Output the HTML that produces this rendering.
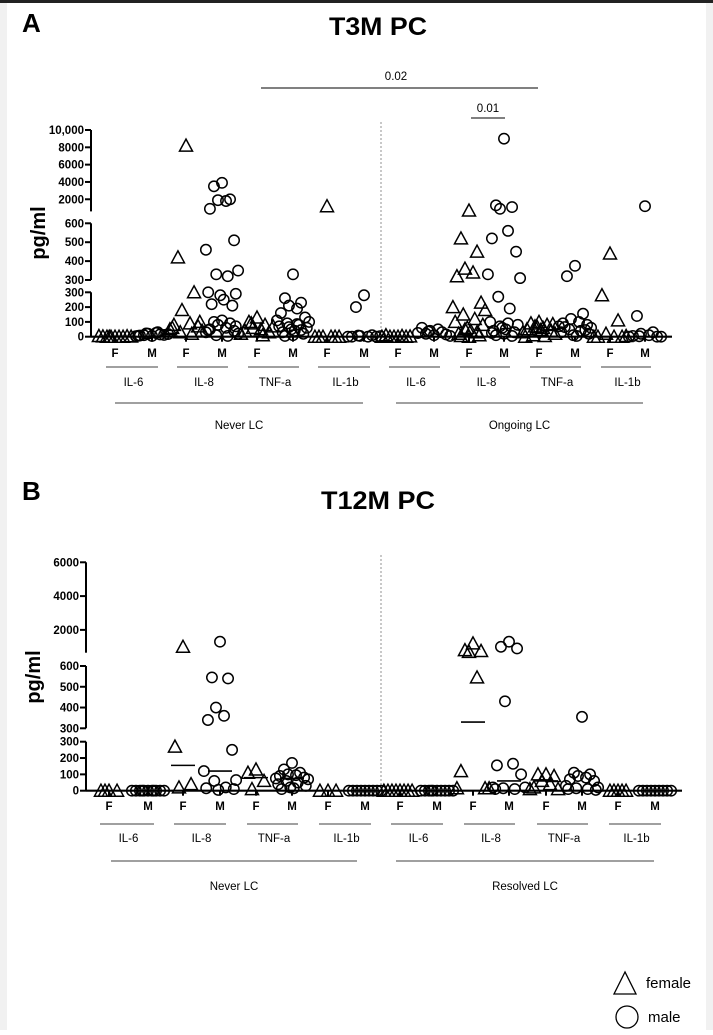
<!DOCTYPE html>
<html><head><meta charset="utf-8"><style>
html,body{margin:0;padding:0;background:#fff}
body{width:713px;height:1030px;overflow:hidden;position:relative;font-family:"Liberation Sans",sans-serif}
svg text{font-family:"Liberation Sans",sans-serif}
</style></head><body>
<svg id="fig" width="713" height="1030" viewBox="0 0 713 1030" xmlns="http://www.w3.org/2000/svg">
<rect x="0" y="0" width="713" height="1030" fill="#fff"/>
<rect x="0" y="0" width="713" height="3" fill="#222"/>
<rect x="0" y="3" width="7" height="1027" fill="#f1f1f1"/>
<rect x="706" y="3" width="7" height="1027" fill="#f1f1f1"/>
<g id="gA"></g>
<g id="gB"></g>
<g>
<polygon points="625,972 614,994 636,994" fill="none" stroke="#000" stroke-width="1.3"/>
<text x="646" y="988" font-size="15">female</text>
<circle cx="627" cy="1017" r="11" fill="none" stroke="#000" stroke-width="1.3"/>
<text x="648" y="1022" font-size="15">male</text>
</g>
</svg>
<script>
// ---- Panel A data (T3M PC) ----
const groupsA = ["IL-6","IL-8","TNF-a","IL-1b","IL-6","IL-8","TNF-a","IL-1b"];
const cohortsA = ["Never LC","Ongoing LC"];
const valsA = [
 [0,0,0,0,0,2,3,5,1,0],
 [5,10,15,20,25,8,12,3,18,22,30,6],
 [8200,420,300,180,90,80,70,50,40,30,20,60,100],
 [3900,3500,2000,1900,1800,900,510,460,350,330,320,300,290,280,250,220,210,110,100,90,80,60,50,40,30,20,10,5,45,70],
 [130,100,80,60,50,40,30,20,70,90,10],
 [330,260,230,210,190,160,130,110,100,90,80,70,60,50,40,30,20,10,5,45,65,85],
 [1200,0,0,0,0,0,0],
 [280,200,10,5,0,0,0,0,3,8],
 [0,0,0,0,5,10,2,0],
 [10,20,30,40,50,60,15,25,5,35],
 [700,520,450,360,340,320,230,200,180,150,120,100,80,60,40,20,10,0,5,30,50],
 [9000,1300,1100,900,560,520,450,330,310,270,190,100,80,60,50,40,30,20,10,5,70,90,25],
 [100,90,80,70,60,50,40,30,20,10,5,0,85,65,45],
 [375,320,155,120,100,90,80,70,60,50,40,30,20,10,5,65,45],
 [440,280,110,20,0,0,0,0,5],
 [1200,140,30,20,10,5,0,0,0,3]
];
const ticksA = [[0,"0"],[100,"100"],[200,"200"],[300,"300"],["m300","300"],[400,"400"],[500,"500"],[600,"600"],[2000,"2000"],[4000,"4000"],[6000,"6000"],[8000,"8000"],[10000,"10,000"]];
// ---- Panel B data (T12M PC) ----
const groupsB = ["IL-6","IL-8","TNF-a","IL-1b","IL-6","IL-8","TNF-a","IL-1b"];
const cohortsB = ["Never LC","Resolved LC"];
const valsB = [
 [0,0,0,0],
 [0,0,0,0,0,0,0,0,0,0,0],
 [1000,270,40,20],
 [1300,545,540,400,360,340,250,120,65,60,20,15,10,5],
 [130,110,60,10],
 [170,130,110,100,95,90,80,75,70,60,50,40,30,20,15,10],
 [0,0,0],
 [0,0,0,0,0,0,0,0,0],
 [0,0,0,0,0,0,0,0],
 [0,0,0,0,0,0,0,0,0,0],
 [1200,800,750,700,545,120,15,15,15],
 [1300,1000,900,430,165,155,100,20,20,15,10,10],
 [100,100,90,60,40,20,10,10],
 [355,110,100,90,80,70,60,30,20,15,10,10,5],
 [0,0,0,0,0],
 [0,0,0,0,0,0,0,0,0]
];
const mediansB = [null,null,155,120,80,75,null,null,null,null,330,60,60,null,null,null];
const ticksB = [[0,"0"],[100,"100"],[200,"200"],[300,"300"],["m300","300"],[400,"400"],[500,"500"],[600,"600"],[2000,"2000"],[4000,"4000"],[6000,"6000"]];

const NS="http://www.w3.org/2000/svg";
function mk(parent,tag,attrs){const e=document.createElementNS(NS,tag);for(const k in attrs)e.setAttribute(k,attrs[k]);parent.appendChild(e);return e;}

function yA(v){
  if(v==="m300") return 280;
  if(v<=300) return 336.7 - v/300*44.4;
  if(v<=600) return 280 - (v-300)/300*56.7;
  return 211.4 - (v-600)/9400*(211.4-130);
}
function yB(v){
  if(v==="m300") return 728.3;
  if(v<=300) return 790.7 - v/300*49;
  if(v<=650) return 728.3 - (v-300)/300*62.3;
  return 652.7 - (v-650)/5350*(652.7-562.3);
}
const jit=[0,-7,7,-3.5,3.5,-10.5,10.5,-14,14,-5,5,-12,12,-1.5,1.5,-9,9];

function panel(g,cfg){
  const {xs,yf,vals,ticks,axisX,baseEnd,segs,groups,cohorts,rowY,medians,dashX,dashTop,dashBot,gLineY,gTextY,cLineY,cTextY,cRanges} = cfg;
  let e=mk(g,'line',{x1:dashX,y1:dashTop,x2:dashX,y2:dashBot,stroke:'#777','stroke-width':0.8,'stroke-dasharray':'2,2'});
  
  
  segs.forEach(s=>{
    const l=mk(g,'line',{x1:axisX,y1:s[0],x2:axisX,y2:s[1],stroke:'#000','stroke-width':2});
    
    
  });
  ticks.forEach(t=>{
    const y=yf(t[0]);
    const l=mk(g,'line',{x1:axisX-6,y1:y,x2:axisX,y2:y,stroke:'#000','stroke-width':2});
    
    
    const tx=mk(g,'text',{x:axisX-7,y:y+4,'font-size':11.5,'font-weight':'bold','text-anchor':'end'});
    tx.textContent=t[1];
    
    
  });
  const bl=mk(g,'line',{x1:axisX,y1:yf(0),x2:baseEnd,y2:yf(0),stroke:'#000','stroke-width':2.2});
  
  
  vals.forEach((arr,i)=>{
    const x0=xs[i], female=(i%2===0);
    arr.forEach((v,j)=>{
      const x=x0+jit[j%jit.length]*1.15, y=yf(v);
      let m;
      if(female){m=mk(g,'polygon',{points:`${x},${y-6.5} ${x-6.5},${y+5.5} ${x+6.5},${y+5.5}`,fill:'none',stroke:'#000','stroke-width':1.5});
        }
      else{m=mk(g,'circle',{cx:x,cy:y,r:5.2,fill:'none',stroke:'#000','stroke-width':1.5});
        }
      
    });
    const tk=mk(g,'line',{x1:x0,y1:yf(0),x2:x0,y2:yf(0)+5,stroke:'#000','stroke-width':2});
    
    
    const lb=mk(g,'text',{x:x0,y:rowY,'font-size':11.5,'font-weight':'bold','text-anchor':'middle'});
    lb.textContent=female?'F':'M';
    
    
    if(medians && medians[i]!=null){
      const my=yf(medians[i]);
      const ml=mk(g,'line',{x1:x0-12,y1:my,x2:x0+12,y2:my,stroke:'#000','stroke-width':1.6});
      
      
    }
  });
  groups.forEach((name,k)=>{
    const a=xs[2*k], b=xs[2*k+1], c=(a+b)/2;
    const l=mk(g,'line',{x1:a-9,y1:gLineY,x2:b+6,y2:gLineY,stroke:'#000','stroke-width':0.8});
    
    
    const t=mk(g,'text',{x:c,y:gTextY,'font-size':11.5,'text-anchor':'middle'});
    t.textContent=name;
    
    
  });
  cohorts.forEach((name,k)=>{
    const r=cRanges[k];
    const l=mk(g,'line',{x1:r[0],y1:cLineY,x2:r[1],y2:cLineY,stroke:'#000','stroke-width':0.8});
    
    
    const t=mk(g,'text',{x:(r[0]+r[1])/2,y:cTextY,'font-size':11.5,'text-anchor':'middle'});
    t.textContent=name;
    
    
  });
  const yt=mk(g,'text',{x:0,y:0,'font-size':20,'font-weight':'bold','text-anchor':'middle',transform:`translate(${axisX-46},${cfg.yTitleY}) rotate(-90)`});
  yt.textContent='pg/ml';
  
  
}

const gA=document.getElementById('gA'), gB=document.getElementById('gB');
panel(gA,{xs:[115,152,186,222,257,293,327,364,398,434,469,504,539,575,610,645],yf:yA,vals:valsA,ticks:ticksA,axisX:91,baseEnd:672,
 segs:[[130,211.4],[223.3,280],[292.3,336.7]],groups:groupsA,cohorts:cohortsA,rowY:357,medians:null,dashX:381,dashTop:122,dashBot:336,
 gLineY:367,gTextY:386,cLineY:403,cTextY:429,cRanges:[[115,363],[396,643]],yTitleY:233});
panel(gB,{xs:[109,148,183,220,256,292,328,365,400,437,473,509,546,582,618,655],yf:yB,vals:valsB,ticks:ticksB,axisX:86,baseEnd:682,
 segs:[[562.3,652.7],[666,728.3],[741.7,790.7]],groups:groupsB,cohorts:cohortsB,rowY:810,medians:mediansB,dashX:381,dashTop:555,dashBot:790,
 gLineY:824,gTextY:842,cLineY:861,cTextY:890,cRanges:[[111,357],[396,654]],yTitleY:677});

function txt(p,x,y,s,size,w,name,anchor){const t=mk(p,'text',{x:x,y:y,'font-size':size,'font-weight':w,'text-anchor':anchor||'start'});t.textContent=s;
 
 return t;}
txt(gA,22,32,'A',26,'bold','panel-a-letter');
const tA=txt(gA,378,35,'T3M PC',25,'bold','panel-a-title','middle');
tA.setAttribute('textLength','98');
tA.setAttribute('lengthAdjust','spacingAndGlyphs');
txt(gA,396,80,'0.02',11.5,'normal','p-value-002','middle');
let s1=mk(gA,'line',{x1:261,y1:88,x2:538,y2:88,stroke:'#000','stroke-width':0.9});


txt(gA,488,112,'0.01',11.5,'normal','p-value-001','middle');
let s2=mk(gA,'line',{x1:471,y1:118,x2:505,y2:118,stroke:'#000','stroke-width':0.9});


txt(gB,22,500,'B',26,'bold','panel-b-letter');
const tB=txt(gB,378,509,'T12M PC',25,'bold','panel-b-title','middle');
tB.setAttribute('textLength','114');
tB.setAttribute('lengthAdjust','spacingAndGlyphs');
</script>
</body></html>
